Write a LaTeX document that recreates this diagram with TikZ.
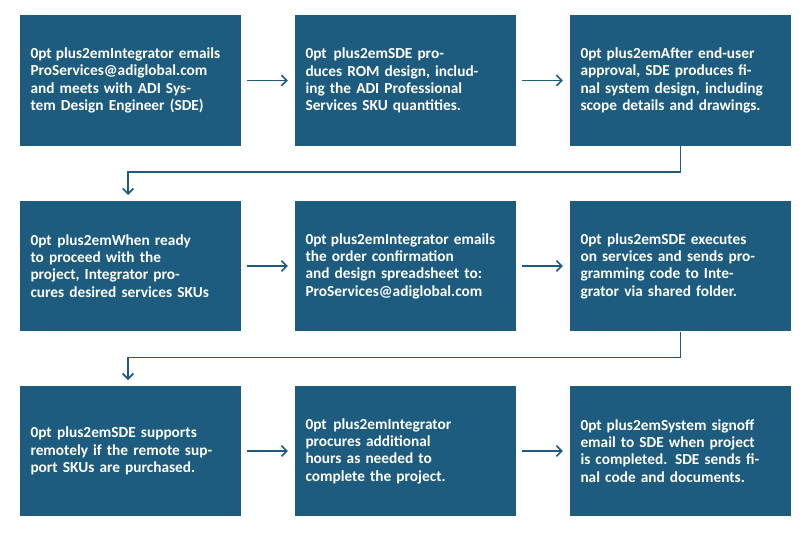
\documentclass[tikz,border=0pt]{standalone}
\usepackage{fontspec}
\setmainfont{Carlito}
\usetikzlibrary{positioning,arrows.meta}
\definecolor{adiblue}{HTML}{1D5C7E}
\tikzset{
  stepbox/.style={fill=adiblue, text=white, font=\fontsize{11.5}{13}\selectfont\bfseries\hyphenpenalty=10000\exhyphenpenalty=10000,
    minimum width=166pt, minimum height=98pt, text width=150pt, align=center, inner sep=0pt},
  flow/.style={adiblue, line width=1.2pt, -{Straight Barb[length=4pt,width=8pt]}}
}
\begin{document}
\begin{tikzpicture}[x=0.75pt,y=-0.75pt]
  \useasboundingbox (0,0) rectangle (808,535);
  % row 1
  \node[stepbox] (s1) at (130.5,80.5) {Integrator emails\\ ProServices@adiglobal.com and meets with ADI System Design Engineer (SDE)};
  \node[stepbox] (s2) at (405.5,80.5) {SDE produces ROM design, including the ADI Professional Services SKU quantities.};
  \node[stepbox] (s3) at (680.5,80.5) {After end-user approval, SDE produces final system design, including scope details and drawings.};
  % row 2
  \node[stepbox] (s4) at (130.5,266) {When ready to proceed with the project, Integrator procures desired services SKUs};
  \node[stepbox] (s5) at (405.5,266) {Integrator emails the order confirmation and design spreadsheet to:\\ ProServices@adiglobal.com};
  \node[stepbox] (s6) at (680.5,266) {SDE executes on services and sends programming code to Integrator via shared folder.};
  % row 3
  \node[stepbox] (s7) at (130.5,451) {SDE supports remotely if the remote support SKUs are purchased.};
  \node[stepbox] (s8) at (405.5,451) {Integrator procures additional hours as needed to complete the project.};
  \node[stepbox] (s9) at (680.5,451) {System signoff email to SDE when project is completed. SDE sends final code and documents.};

  \coordinate (in4) at (128,195);
  \coordinate (in7) at (128,380);

  \draw[flow] ([xshift=4pt]s1.east) -- ([xshift=-5pt]s2.west);
  \draw[flow] ([xshift=4pt]s2.east) -- ([xshift=-5pt]s3.west);
  \draw[flow] ([xshift=4pt]s4.east) -- ([xshift=-5pt]s5.west);
  \draw[flow] ([xshift=4pt]s5.east) -- ([xshift=-5pt]s6.west);
  \draw[flow] ([xshift=4pt]s7.east) -- ([xshift=-5pt]s8.west);
  \draw[flow] ([xshift=4pt]s8.east) -- ([xshift=-5pt]s9.west);

  \draw[flow] (s3.south) -- ++(0,26) -| (in4);
  \draw[flow] (s6.south) -- ++(0,26) -| (in7);
\end{tikzpicture}
\end{document}
